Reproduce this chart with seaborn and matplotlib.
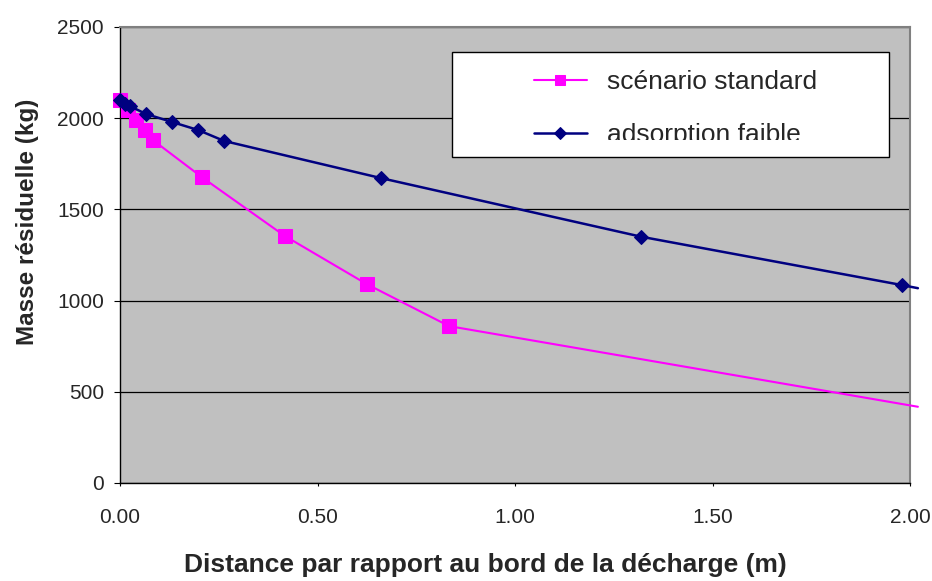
import matplotlib
matplotlib.use("Agg")
import matplotlib.pyplot as plt
import seaborn as sns
import pandas as pd
from matplotlib.patches import Rectangle

# ---- data ----
x_standard = [0.0, 0.0208, 0.0417, 0.0625, 0.0833, 0.2083, 0.4167, 0.625, 0.8333, 2.02]
y_standard = [2100, 2045, 1990, 1935, 1880, 1675, 1355, 1090, 860, 418]
x_faible = [0.0, 0.013, 0.026, 0.066, 0.132, 0.198, 0.264, 0.66, 1.32, 1.98, 2.02]
y_faible = [2100, 2080, 2065, 2023, 1979, 1935, 1875, 1672, 1350, 1085, 1068]
label_standard = "scénario standard"
label_faible = "adsorption faible"
x_ticks = [0.0, 0.5, 1.0, 1.5, 2.0]
x_tick_labels = ["0.00", "0.50", "1.00", "1.50", "2.00"]
y_ticks = [0, 500, 1000, 1500, 2000, 2500]
x_label = "Distance par rapport au bord de la décharge (m)"
y_label = "Masse résiduelle (kg)"

sns.set_theme(style="white")
plt.rcParams["font.family"] = ["Liberation Sans", "DejaVu Sans"]

fig = plt.figure(figsize=(9.32, 5.81), dpi=100)
ax = fig.add_axes([120 / 932, 1 - 483 / 581, 790 / 932, 456 / 581])
ax.set_facecolor("#C0C0C0")

df_s = pd.DataFrame({"x": x_standard, "y": y_standard})
df_f = pd.DataFrame({"x": x_faible, "y": y_faible})

sns.lineplot(data=df_s, x="x", y="y", ax=ax, color="#FF00FF", lw=1.5,
             marker="s", markersize=9.5, markeredgecolor="#FF00FF",
             markevery=list(range(len(x_standard) - 1)), clip_on=False,
             label=label_standard, zorder=3)
sns.lineplot(data=df_f, x="x", y="y", ax=ax, color="#000080", lw=1.8,
             marker="D", markersize=7.5, markeredgecolor="#000080",
             markevery=list(range(len(x_faible) - 1)), clip_on=False,
             label=label_faible, zorder=4)

ax.set_xlim(0, 2.0)
ax.set_ylim(0, 2500)
ax.set_xticks(x_ticks)
ax.set_xticklabels(x_tick_labels)
ax.set_yticks(y_ticks)
ax.set_yticklabels([str(v) for v in y_ticks])

ax.yaxis.grid(True, color="black", lw=0.9)
ax.xaxis.grid(False)
ax.set_axisbelow(True)

for s in ["left", "bottom"]:
    ax.spines[s].set_color("black")
    ax.spines[s].set_linewidth(1.0)
for s in ["top", "right"]:
    ax.spines[s].set_color("#808080")
    ax.spines[s].set_linewidth(1.5)

ax.tick_params(axis="y", which="major", left=True, length=4.5, width=0.8,
               color="black", direction="out", pad=7, labelsize=15)
ax.tick_params(axis="x", which="major", bottom=True, length=2.5, width=0.8,
               color="black", direction="out", pad=15.5, labelsize=15)

ax.set_xlabel(x_label, fontsize=19, fontweight="bold")
ax.set_ylabel(y_label, fontsize=17.5, fontweight="bold")
ax.xaxis.set_label_coords(0.462, -0.153)
ax.yaxis.set_label_coords(-0.102, 0.572)

# legend frame
rect = Rectangle((0.420, 0.715), 0.553, 0.230, transform=ax.transAxes,
                 facecolor="white", edgecolor="black", lw=1.0, zorder=6)
ax.add_patch(rect)
clip_rect = Rectangle((0.420, 0.752), 0.553, 0.193, transform=ax.transAxes,
                      facecolor="none", edgecolor="none")
leg = ax.legend(loc="upper left", bbox_to_anchor=(0.524, 0.905), frameon=False,
                fontsize=19, handlelength=2.0, handletextpad=0.75,
                labelspacing=1.1, borderpad=0, borderaxespad=0, markerscale=0.8)
leg.set_zorder(7)
for t in leg.get_texts():
    t.set_clip_path(clip_rect)
    t.set_clip_on(True)

fig.savefig("out.png", dpi=100)
